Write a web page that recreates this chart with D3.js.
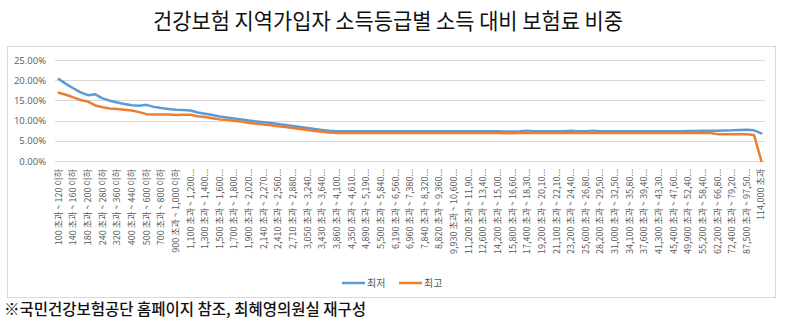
<!DOCTYPE html>
<html>
<head>
<meta charset="utf-8">
<script src="https://cdn.jsdelivr.net/npm/d3@7"></script>
<style>
  html, body { margin: 0; padding: 0; background: #fff; }
  svg { display: block; }
</style>
</head>
<body>
<svg id="chart" width="787" height="324"></svg>
<script>
// 소득등급 구간 (만원)
const categories = [
  "100 초과 ~ 120 이하", "120 초과 ~ 140 이하", "140 초과 ~ 160 이하", "160 초과 ~ 180 이하",
  "180 초과 ~ 200 이하", "200 초과 ~ 240 이하", "240 초과 ~ 280 이하", "280 초과 ~ 320 이하",
  "320 초과 ~ 360 이하", "360 초과 ~ 400 이하", "400 초과 ~ 440 이하", "440 초과 ~ 500 이하",
  "500 초과 ~ 600 이하", "600 초과 ~ 700 이하", "700 초과 ~ 800 이하", "800 초과 ~ 900 이하",
  "900 초과 ~ 1,000 이하", "1,000 초과 ~ 1,100 이하", "1,100 초과 ~ 1,200 이하", "1,200 초과 ~ 1,300 이하",
  "1,300 초과 ~ 1,400 이하", "1,400 초과 ~ 1,500 이하", "1,500 초과 ~ 1,600 이하", "1,600 초과 ~ 1,700 이하",
  "1,700 초과 ~ 1,800 이하", "1,800 초과 ~ 1,900 이하", "1,900 초과 ~ 2,020 이하", "2,020 초과 ~ 2,140 이하",
  "2,140 초과 ~ 2,270 이하", "2,270 초과 ~ 2,410 이하", "2,410 초과 ~ 2,560 이하", "2,560 초과 ~ 2,710 이하",
  "2,710 초과 ~ 2,880 이하", "2,880 초과 ~ 3,050 이하", "3,050 초과 ~ 3,240 이하", "3,240 초과 ~ 3,430 이하",
  "3,430 초과 ~ 3,640 이하", "3,640 초과 ~ 3,860 이하", "3,860 초과 ~ 4,100 이하", "4,100 초과 ~ 4,350 이하",
  "4,350 초과 ~ 4,610 이하", "4,610 초과 ~ 4,890 이하", "4,890 초과 ~ 5,190 이하", "5,190 초과 ~ 5,500 이하",
  "5,500 초과 ~ 5,840 이하", "5,840 초과 ~ 6,190 이하", "6,190 초과 ~ 6,560 이하", "6,560 초과 ~ 6,960 이하",
  "6,960 초과 ~ 7,380 이하", "7,380 초과 ~ 7,840 이하", "7,840 초과 ~ 8,320 이하", "8,320 초과 ~ 8,820 이하",
  "8,820 초과 ~ 9,360 이하", "9,360 초과 ~ 9,930 이하", "9,930 초과 ~ 10,600 이하", "10,600 초과 ~ 11,200 이하",
  "11,200 초과 ~ 11,900 이하", "11,900 초과 ~ 12,600 이하", "12,600 초과 ~ 13,400 이하", "13,400 초과 ~ 14,200 이하",
  "14,200 초과 ~ 15,000 이하", "15,000 초과 ~ 15,800 이하", "15,800 초과 ~ 16,600 이하", "16,600 초과 ~ 17,400 이하",
  "17,400 초과 ~ 18,300 이하", "18,300 초과 ~ 19,200 이하", "19,200 초과 ~ 20,100 이하", "20,100 초과 ~ 21,100 이하",
  "21,100 초과 ~ 22,100 이하", "22,100 초과 ~ 23,200 이하", "23,200 초과 ~ 24,400 이하", "24,400 초과 ~ 25,600 이하",
  "25,600 초과 ~ 26,800 이하", "26,800 초과 ~ 28,200 이하", "28,200 초과 ~ 29,500 이하", "29,500 초과 ~ 31,000 이하",
  "31,000 초과 ~ 32,500 이하", "32,500 초과 ~ 34,100 이하", "34,100 초과 ~ 35,800 이하", "35,800 초과 ~ 37,600 이하",
  "37,600 초과 ~ 39,400 이하", "39,400 초과 ~ 41,300 이하", "41,300 초과 ~ 43,300 이하", "43,300 초과 ~ 45,400 이하",
  "45,400 초과 ~ 47,600 이하", "47,600 초과 ~ 49,900 이하", "49,900 초과 ~ 52,400 이하", "52,400 초과 ~ 55,200 이하",
  "55,200 초과 ~ 58,400 이하", "58,400 초과 ~ 62,200 이하", "62,200 초과 ~ 66,800 이하", "66,800 초과 ~ 72,400 이하",
  "72,400 초과 ~ 79,200 이하", "79,200 초과 ~ 87,500 이하", "87,500 초과 ~ 97,500 이하", "97,500 초과 ~ 114,000 이하",
  "114,000 초과"
];

// 소득 대비 보험료 비중 (%) — 구간 하한 기준
const lowestShare = [
  20.3, 19.1, 18.0, 17.0, 16.3, 16.5, 15.5, 14.9, 14.5, 14.1,
  13.8, 13.7, 13.9, 13.4, 13.1, 12.9, 12.7, 12.6, 12.5, 12.0,
  11.7, 11.4, 11.0, 10.8, 10.5, 10.3, 10.0, 9.8, 9.6, 9.4,
  9.15, 8.9, 8.65, 8.4, 8.15, 7.9, 7.7, 7.5, 7.35, 7.35,
  7.35, 7.35, 7.35, 7.35, 7.35, 7.35, 7.35, 7.35, 7.35, 7.35,
  7.35, 7.35, 7.35, 7.35, 7.35, 7.35, 7.35, 7.35, 7.35, 7.35,
  7.35, 7.3, 7.3, 7.35, 7.5, 7.35, 7.35, 7.35, 7.35, 7.35,
  7.5, 7.35, 7.35, 7.5, 7.35, 7.35, 7.35, 7.35, 7.35, 7.35,
  7.35, 7.35, 7.35, 7.35, 7.35, 7.35, 7.4, 7.45, 7.5, 7.5,
  7.5, 7.55, 7.6, 7.7, 7.75, 7.6, 6.85
];

// 소득 대비 보험료 비중 (%) — 구간 상한 기준
const highestShare = [
  16.9, 16.4, 15.75, 15.1, 14.7, 13.75, 13.3, 13.0, 12.9, 12.7,
  12.5, 12.1, 11.6, 11.5, 11.5, 11.5, 11.4, 11.45, 11.45, 11.1,
  10.9, 10.6, 10.3, 10.2, 9.9, 9.75, 9.4, 9.25, 9.05, 8.85,
  8.6, 8.4, 8.15, 7.9, 7.7, 7.45, 7.25, 7.05, 6.95, 6.95,
  6.95, 6.95, 6.95, 6.95, 6.95, 6.95, 6.95, 6.95, 6.95, 6.95,
  6.95, 6.95, 6.95, 6.95, 6.95, 6.95, 6.95, 6.95, 6.95, 6.95,
  6.95, 6.85, 6.85, 6.95, 6.95, 6.95, 6.95, 6.95, 6.95, 6.95,
  6.95, 6.95, 6.95, 6.95, 6.95, 6.95, 6.95, 6.95, 6.95, 6.95,
  6.95, 6.95, 6.95, 6.95, 6.95, 6.95, 6.95, 6.95, 6.95, 6.95,
  6.65, 6.65, 6.65, 6.65, 6.65, 6.45, 0
];

const yTicks = [0, 5, 10, 15, 20, 25];

const seriesNames = ["최저", "최고"];
const seriesColors = ["#5B9BD5", "#ED7D31"];

const titleText = "건강보험 지역가입자 소득등급별 소득 대비 보험료 비중";
const noteText = "※국민건강보험공단 홈페이지 참조, 최혜영의원실 재구성";

const svg = d3.select("#chart");
const W = 787, H = 324;
const KR = "'Noto Sans CJK KR', 'Noto Sans', sans-serif";
const gray = "#595959";

svg.append("rect").attr("width", W).attr("height", H).attr("fill", "#fff");

// Title above the chart frame
svg.append("text")
  .attr("x", 388).attr("y", 29)
  .attr("text-anchor", "middle")
  .attr("font-family", KR)
  .attr("font-size", 21.5)
  .attr("textLength", 470)
  .attr("lengthAdjust", "spacingAndGlyphs")
  .attr("fill", "#111")
  .text(titleText);

// Chart frame
svg.append("rect")
  .attr("x", 7.5).attr("y", 46.5)
  .attr("width", 768).attr("height", 251)
  .attr("fill", "none")
  .attr("stroke", "#d9d9d9")
  .attr("stroke-width", 1);

const plot = { left: 55, right: 765, top: 60, bottom: 161 };

const x = d3.scaleBand()
  .domain(categories)
  .range([plot.left, plot.right])
  .paddingInner(0).paddingOuter(0);

const y = d3.scaleLinear()
  .domain([0, 25])
  .range([plot.bottom, plot.top]);

// Horizontal gridlines
svg.append("g")
  .selectAll("line")
  .data(yTicks)
  .join("line")
  .attr("x1", plot.left).attr("x2", plot.right)
  .attr("y1", d => Math.round(y(d)) + 0.5)
  .attr("y2", d => Math.round(y(d)) + 0.5)
  .attr("stroke", "#d9d9d9")
  .attr("stroke-width", 1);

// Y axis labels
const yAxis = d3.axisLeft(y)
  .tickValues(yTicks)
  .tickSize(0)
  .tickPadding(9)
  .tickFormat(d => d3.format(".2f")(d) + "%");

const gy = svg.append("g")
  .attr("transform", `translate(${plot.left},0)`)
  .call(yAxis);
gy.select(".domain").remove();
gy.selectAll("text")
  .attr("font-family", "'Open Sans', 'Noto Sans', sans-serif")
  .attr("font-size", 9.5)
  .attr("fill", gray);

// X axis labels: every other category, rotated
const labelMax = 88;
const xAxis = d3.axisBottom(x)
  .tickValues(categories.filter((d, i) => i % 2 === 0))
  .tickSize(0)
  .tickPadding(0);

const gx = svg.append("g")
  .attr("transform", `translate(0,${plot.bottom})`)
  .call(xAxis);
gx.select(".domain").remove();
gx.selectAll("text")
  .attr("font-family", KR)
  .attr("font-size", 9)
  .attr("fill", gray)
  .attr("text-anchor", "end")
  .attr("dy", "0.35em")
  .attr("transform", "translate(0,8) rotate(-90)")
  .each(function () {
    const t = d3.select(this);
    const full = t.text();
    if (this.getComputedTextLength() > labelMax) {
      let s = full;
      while (s.length > 1) {
        s = s.slice(0, -1);
        t.text(s.trimEnd() + "...");
        if (this.getComputedTextLength() <= labelMax) break;
      }
    }
  });

// Series lines
const series = [lowestShare, highestShare];
const line = d3.line()
  .x((d, i) => x(categories[i]) + x.bandwidth() / 2)
  .y(d => y(d));

svg.append("g")
  .selectAll("path")
  .data(series)
  .join("path")
  .attr("d", d => line(d))
  .attr("fill", "none")
  .attr("stroke", (d, i) => seriesColors[i])
  .attr("stroke-width", 2.5)
  .attr("stroke-linejoin", "round")
  .attr("stroke-linecap", "round");

// Legend
const legend = svg.append("g").attr("transform", "translate(342,283)");
const items = legend.selectAll("g")
  .data(seriesNames)
  .join("g")
  .attr("transform", (d, i) => `translate(${i * 57},0)`);
items.append("line")
  .attr("x1", 0).attr("x2", 23)
  .attr("y1", 0).attr("y2", 0)
  .attr("stroke", (d, i) => seriesColors[i])
  .attr("stroke-width", 2.5);
items.append("text")
  .attr("x", 25).attr("y", 0)
  .attr("dy", "0.35em")
  .attr("font-family", KR)
  .attr("font-size", 10)
  .attr("fill", gray)
  .text(d => d);

// Source note
svg.append("text")
  .attr("x", 4).attr("y", 315)
  .attr("font-family", KR)
  .attr("font-size", 15.5)
  .attr("font-weight", 500)
  .attr("fill", "#111")
  .text(noteText);
</script>
</body>
</html>
